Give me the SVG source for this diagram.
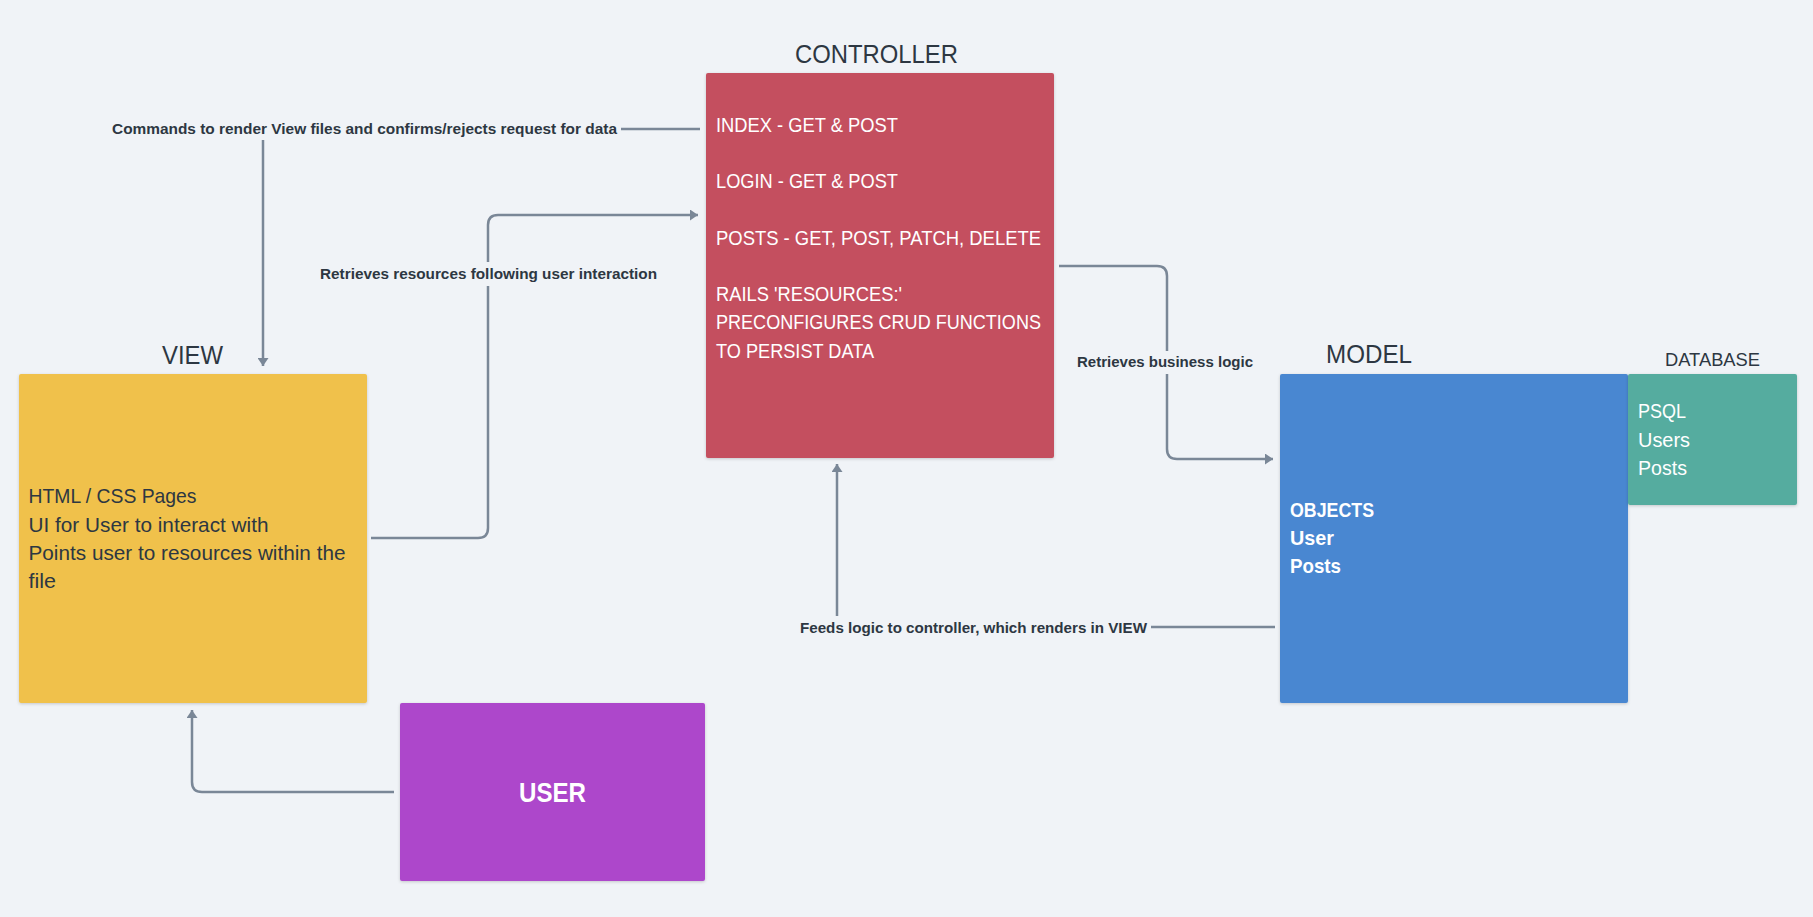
<svg xmlns="http://www.w3.org/2000/svg" width="1813" height="917" viewBox="0 0 1813 917">
<defs>
<style>
.bg{fill:#f0f3f7}
.box{filter:url(#sh)}
.t{font-family:"Liberation Sans",Arial,sans-serif}
.title{font-size:26px;fill:#2d3742}
.body{font-size:21px}
.w{fill:#ffffff}
.d{fill:#2d3742}
.lbl{font-size:15px;font-weight:bold;fill:#2d3742}
.ln{fill:none;stroke:#7a8797;stroke-width:2.5}
.mask{fill:#f0f3f7}
</style>
<filter id="sh" x="-5%" y="-5%" width="110%" height="110%">
<feDropShadow dx="0" dy="1" stdDeviation="1.5" flood-color="#000" flood-opacity="0.18"/>
</filter>
<marker id="ah" markerUnits="userSpaceOnUse" markerWidth="11" markerHeight="11" refX="8" refY="5.5" orient="auto">
<path d="M0,0 L8,5.5 L0,11 z" fill="#7a8797"/>
</marker>
</defs>
<rect class="bg" x="0" y="0" width="1813" height="917"/>

<g id="connectors">
<path class="ln" d="M700,129 H263 V366" marker-end="url(#ah)"/>
<path class="ln" d="M371,538 H478 Q488,538 488,528 V225 Q488,215 498,215 H698" marker-end="url(#ah)"/>
<path class="ln" d="M1059,266 H1157 Q1167,266 1167,276 V449 Q1167,459 1177,459 H1273" marker-end="url(#ah)"/>
<path class="ln" d="M1275,627 H837 V464" marker-end="url(#ah)"/>
<path class="ln" d="M394,792 H202 Q192,792 192,782 V710" marker-end="url(#ah)"/>
<rect class="mask" x="108" y="117" width="513" height="23"/>
<text class="t lbl" x="112" y="134" textLength="505" lengthAdjust="spacingAndGlyphs">Commands to render View files and confirms/rejects request for data</text>
<rect class="mask" x="316" y="262" width="345" height="24"/>
<text class="t lbl" x="320" y="279" textLength="337" lengthAdjust="spacingAndGlyphs">Retrieves resources following user interaction</text>
<rect class="mask" x="1073" y="351" width="184" height="23"/>
<text class="t lbl" x="1077" y="367" textLength="176" lengthAdjust="spacingAndGlyphs">Retrieves business logic</text>
<rect class="mask" x="796" y="616" width="355" height="24"/>
<text class="t lbl" x="800" y="633" textLength="347" lengthAdjust="spacingAndGlyphs">Feeds logic to controller, which renders in VIEW</text>
</g>

<g id="controller">
<text class="t title" x="795" y="63" textLength="163" lengthAdjust="spacingAndGlyphs">CONTROLLER</text>
<rect class="box" x="706" y="73" width="348" height="385" rx="2" fill="#c4505e"/>
<g class="t body w">
<text x="716" y="132" textLength="182" lengthAdjust="spacingAndGlyphs">INDEX - GET &amp; POST</text>
<text x="716" y="188" textLength="182" lengthAdjust="spacingAndGlyphs">LOGIN - GET &amp; POST</text>
<text x="716" y="245" textLength="325" lengthAdjust="spacingAndGlyphs">POSTS - GET, POST, PATCH, DELETE</text>
<text x="716" y="301" textLength="186" lengthAdjust="spacingAndGlyphs">RAILS 'RESOURCES:'</text>
<text x="716" y="329" textLength="325" lengthAdjust="spacingAndGlyphs">PRECONFIGURES CRUD FUNCTIONS</text>
<text x="716" y="358" textLength="158" lengthAdjust="spacingAndGlyphs">TO PERSIST DATA</text>
</g>
</g>

<g id="view">
<text class="t title" x="162" y="364" textLength="61" lengthAdjust="spacingAndGlyphs">VIEW</text>
<rect class="box" x="19" y="374" width="348" height="329" rx="2" fill="#f0c14c"/>
<g class="t body d">
<text x="28.5" y="503" textLength="168" lengthAdjust="spacingAndGlyphs">HTML / CSS Pages</text>
<text x="28.5" y="532" textLength="240" lengthAdjust="spacingAndGlyphs">UI for User to interact with</text>
<text x="28.5" y="560" textLength="317" lengthAdjust="spacingAndGlyphs">Points user to resources within the</text>
<text x="28.5" y="588" textLength="27.5" lengthAdjust="spacingAndGlyphs">file</text>
</g>
</g>

<g id="user">
<rect class="box" x="400" y="703" width="305" height="178" rx="2" fill="#ad46cb"/>
<text class="t w" x="519" y="802" font-size="28" font-weight="bold" textLength="67" lengthAdjust="spacingAndGlyphs">USER</text>
</g>

<g id="model">
<text class="t title" x="1326" y="363" textLength="86" lengthAdjust="spacingAndGlyphs">MODEL</text>
<rect class="box" x="1280" y="374" width="348" height="329" rx="2" fill="#4987d1"/>
<g class="t body w" font-weight="bold">
<text x="1290" y="517" textLength="84" lengthAdjust="spacingAndGlyphs">OBJECTS</text>
<text x="1290" y="545" textLength="44" lengthAdjust="spacingAndGlyphs">User</text>
<text x="1290" y="573" textLength="51" lengthAdjust="spacingAndGlyphs">Posts</text>
</g>
</g>

<g id="database">
<text class="t d" x="1665" y="366" font-size="19" textLength="95" lengthAdjust="spacingAndGlyphs">DATABASE</text>
<rect class="box" x="1628" y="374" width="169" height="131" rx="2" fill="#55ac9f"/>
<g class="t body w">
<text x="1638" y="418" textLength="48" lengthAdjust="spacingAndGlyphs">PSQL</text>
<text x="1638" y="447" textLength="52" lengthAdjust="spacingAndGlyphs">Users</text>
<text x="1638" y="475" textLength="49" lengthAdjust="spacingAndGlyphs">Posts</text>
</g>
</g>
</svg>
